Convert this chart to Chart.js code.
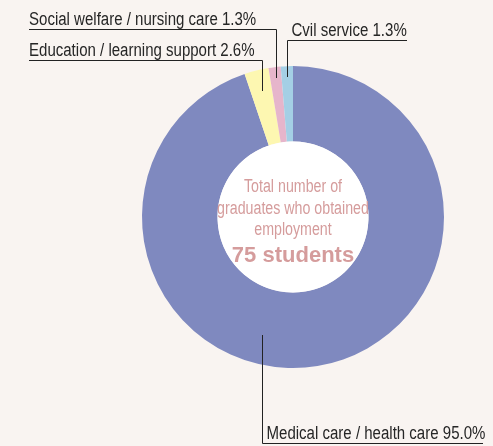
<!DOCTYPE html>
<html>
<head>
<meta charset="utf-8">
<script src="https://cdn.jsdelivr.net/npm/chart.js@4"></script>
<style>
  html, body { margin: 0; padding: 0; background: #f9f4f1; }
  #wrap { position: relative; width: 493px; height: 446px; }
</style>
</head>
<body>
<div id="wrap"><canvas id="chart" width="493" height="446"></canvas></div>
<script>
const categories = [
  'Medical care / health care',
  'Education / learning support',
  'Social welfare / nursing care',
  'Cvil service',
];
const shares = [95.0, 2.6, 1.3, 1.3];
const sliceColors = ['#7f89bf', '#fdf7b1', '#e6b5cb', '#a4cfe5'];
const centerLines = ['Total number of', 'graduates who obtained', 'employment'];
const centerTotal = '75 students';

const sans = '"Liberation Sans", Arial, sans-serif';

// where each callout leaves its slice and where its label line sits
const callouts = [
  { i: 0, pos: 0.57, r: 0.81, lineY: 443, dir: 'right', endX: 483 },
  { i: 1, pos: 0.5, r: 0.86, lineY: 60, dir: 'left', endX: 29 },
  { i: 2, pos: 0.5, r: 0.93, lineY: 29, dir: 'left', endX: 29 },
  { i: 3, pos: 0.5, r: 0.93, lineY: 40, dir: 'right', endX: 407 },
];

// fake a condensed face by squeezing the run
function narrowText(ctx, txt, x, y, squeeze) {
  const w = ctx.measureText(txt).width;
  ctx.fillText(txt, x, y, w * squeeze);
}

const calloutPlugin = {
  id: 'callouts',
  afterDraw(chart) {
    const ctx = chart.ctx;
    const arcs = chart.getDatasetMeta(0).data;
    ctx.save();
    ctx.strokeStyle = '#222';
    ctx.lineWidth = 1;
    ctx.fillStyle = '#262626';
    ctx.font = '18px ' + sans;
    ctx.textBaseline = 'alphabetic';
    ctx.textAlign = 'left';
    callouts.forEach(c => {
      const a = arcs[c.i];
      const ang = a.startAngle + (a.endAngle - a.startAngle) * c.pos;
      const ax = Math.round(a.x + Math.cos(ang) * a.outerRadius * c.r) + 0.5;
      const ay = Math.round(a.y + Math.sin(ang) * a.outerRadius * c.r);
      const ly = c.lineY + 0.5;
      ctx.beginPath();
      ctx.moveTo(ax, ay);
      ctx.lineTo(ax, ly);
      ctx.lineTo(c.endX, ly);
      ctx.stroke();
      const txt = `${categories[c.i]} ${shares[c.i].toFixed(1)}%`;
      const tx = c.dir === 'left' ? c.endX : ax + 4;
      narrowText(ctx, txt, tx, c.lineY - 4, 0.835);
    });
    ctx.restore();
  },
};

const holePlugin = {
  id: 'hole',
  afterDatasetsDraw(chart) {
    const a = chart.getDatasetMeta(0).data[0];
    const ctx = chart.ctx;
    ctx.save();
    ctx.fillStyle = '#ffffff';
    ctx.beginPath();
    ctx.arc(a.x, a.y, a.innerRadius, 0, Math.PI * 2);
    ctx.fill();
    ctx.restore();
  },
};

const centerPlugin = {
  id: 'centerText',
  afterDraw(chart) {
    const ctx = chart.ctx;
    const a = chart.getDatasetMeta(0).data[0];
    ctx.save();
    ctx.fillStyle = '#d59c9c';
    ctx.textAlign = 'center';
    ctx.textBaseline = 'alphabetic';
    ctx.font = '18px ' + sans;
    centerLines.forEach((t, k) => narrowText(ctx, t, a.x, a.y - 25 + k * 21.5, 0.79));
    ctx.font = 'bold 22px ' + sans;
    ctx.fillText(centerTotal, a.x, a.y + 45);
    ctx.restore();
  },
};

new Chart(document.getElementById('chart'), {
  type: 'doughnut',
  data: {
    labels: categories,
    datasets: [{
      data: shares,
      backgroundColor: sliceColors,
      borderWidth: 0,
    }],
  },
  options: {
    responsive: false,
    animation: false,
    cutout: '50%',
    layout: { padding: { left: 142, right: 49, top: 66, bottom: 78 } },
    plugins: { legend: { display: false }, tooltip: { enabled: false } },
  },
  plugins: [holePlugin, calloutPlugin, centerPlugin],
});
</script>
</body>
</html>
